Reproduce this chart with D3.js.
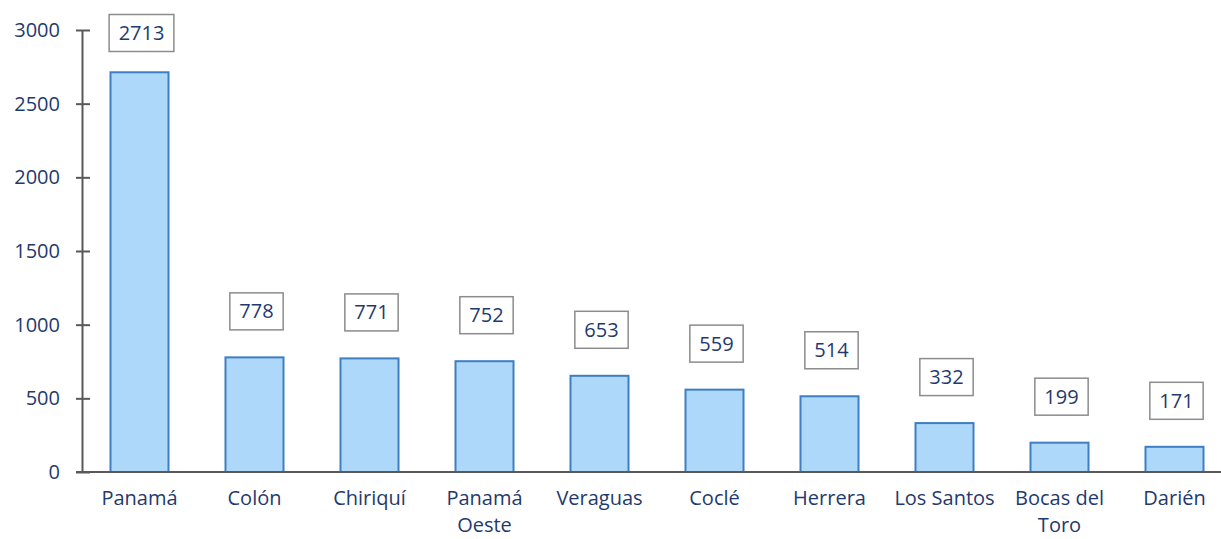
<!DOCTYPE html>
<html><head><meta charset="utf-8">
<script src="https://cdn.jsdelivr.net/npm/d3@7"></script>
<style>html,body{margin:0;padding:0;background:#fff;overflow:hidden}</style>
</head><body><svg id="c" width="1221" height="539"></svg>
<script>
const categories = ["Panamá","Colón","Chiriquí","Panamá Oeste","Veraguas","Coclé","Herrera","Los Santos","Bocas del Toro","Darién"];
const values = [2713,778,771,752,653,559,514,332,199,171];
const yTicks = [0,500,1000,1500,2000,2500,3000];

const W=1221,H=539;
const svg=d3.select("#c");
const FONT="'Open Sans', Lato, sans-serif";
const NAVY="#1F3A6E";
const x=d3.scaleBand().domain(categories).range([82,1232]).paddingInner(57/115).paddingOuter(28.5/115);
const y=d3.scaleLinear().domain([0,3000]).range([472,30]);

// bars
svg.selectAll("rect.bar").data(values).join("rect").attr("class","bar")
 .attr("x",(d,i)=>x(categories[i])).attr("width",x.bandwidth())
 .attr("y",d=>y(d)).attr("height",d=>y(0)-y(d))
 .attr("fill","#ADD8FA").attr("stroke","#3E7EC2").attr("stroke-width",2);

// y axis
const ya=svg.append("g").attr("transform","translate(82,0)")
 .call(d3.axisLeft(y).tickValues(yTicks).tickFormat(d3.format("d")).tickSize(6).tickPadding(16).tickSizeOuter(0));
ya.select(".domain").attr("stroke","#595959").attr("stroke-width",2);
ya.selectAll(".tick line").attr("stroke","#595959").attr("stroke-width",2).attr("x1",8).attr("x2",-6);
ya.selectAll(".tick text").attr("font-family",FONT).attr("font-size",20).attr("fill",NAVY);

// x axis line
svg.append("line").attr("x1",76).attr("x2",W).attr("y1",y(0)).attr("y2",y(0))
 .attr("stroke","#595959").attr("stroke-width",2);

// category labels
const lab=svg.selectAll("text.cat").data(categories).join("text").attr("class","cat")
 .attr("font-family",FONT).attr("font-size",20).attr("fill",NAVY).attr("text-anchor","middle");
lab.each(function(c){
  const t=d3.select(this);
  const cx=x(c)+x.bandwidth()/2;
  const words=c.split(" ");
  let lines=[c];
  if(c.length>10){ lines=[words.slice(0,words.length-1).join(" "),words[words.length-1]]; }
  lines.forEach((l,k)=>t.append("tspan").attr("x",cx).attr("y",505+k*27.4).text(l));
});

// data labels
const g=svg.selectAll("g.dl").data(values).join("g").attr("class","dl");
g.each(function(d,i){
  const gg=d3.select(this);
  const cx=x(categories[i])+x.bandwidth()/2+2;
  const cy=Math.max(y(d)-46,33);
  const t=gg.append("text").attr("x",cx).attr("y",cy).attr("dy","0.35em")
    .attr("text-anchor","middle").attr("font-family",FONT).attr("font-size",20).attr("fill",NAVY).text(d);
  const bw=t.node().getComputedTextLength()+19;
  gg.insert("rect","text").attr("x",cx-bw/2).attr("y",cy-18.5).attr("width",bw).attr("height",37)
    .attr("fill","#fff").attr("stroke","#8C8C8C").attr("stroke-width",1.5);
});
</script></body></html>
